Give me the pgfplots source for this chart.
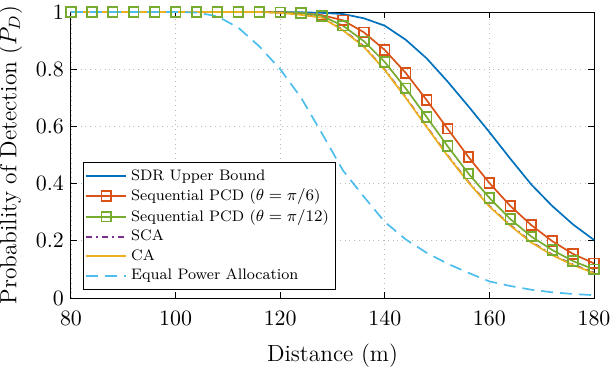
\documentclass[border=0pt]{standalone}
\usepackage{pgfplots}
\pgfplotsset{compat=1.18}
\definecolor{mblue}{rgb}{0,0.447,0.741}
\definecolor{mred}{rgb}{0.85,0.325,0.098}
\definecolor{myellow}{rgb}{0.929,0.694,0.125}
\definecolor{mpurple}{rgb}{0.494,0.184,0.556}
\definecolor{mgreen}{rgb}{0.466,0.674,0.188}
\definecolor{mcyan}{rgb}{0.301,0.745,0.933}
\begin{document}
\begin{tikzpicture}
\begin{axis}[name=ax, scale only axis, width=261.5pt, height=143pt,
  xmin=80, xmax=180, ymin=0, ymax=1,
  xtick={80,100,120,140,160,180}, ytick={0,0.2,0.4,0.6,0.8,1},
  tick align=inside, major tick length=3pt,
  grid=major, grid style={dotted, gray!55, line width=0.4pt},
  axis line style={line width=0.5pt},
  tick style={line width=0.5pt, black},
  tick label style={font=\fontsize{10.5}{12}\selectfont},
  xticklabel style={yshift=-3pt},
  label style={font=\fontsize{11.7}{14}\selectfont},
  xlabel style={yshift=-2.5pt},
  xlabel={Distance (m)}, ylabel={Probability of Detection ($P_D$)},
  clip=false,
  legend style={at={(0.023,0.028)}, anchor=south west,
    font=\fontsize{7.6}{9}\selectfont, draw=black,
    inner xsep=1pt, inner ysep=1.5pt, row sep=-1.2pt, cells={anchor=west}},
  legend image code/.code={\draw[mark repeat=2,mark phase=2,line width=0.85pt,#1] plot coordinates {(0pt,0pt) (10pt,0pt) (20pt,0pt)};},
  every axis plot/.append style={line width=0.85pt},
]
\addplot[mblue, no marks] coordinates {
(80,1)(84,1)(88,1)(92,1)(96,1)(100,1)(104,1)(108,1)(112,1)(116,1)(120,1)(124,0.999)(128,0.997)(132,0.993)(136,0.978)(140,0.952)(144,0.903)(148,0.838)(152,0.757)(156,0.67)(160,0.58)(164,0.487)(168,0.397)(172,0.322)(176,0.257)(180,0.203)};
\addlegendentry{SDR Upper Bound}
\addplot[mred, line width=0.85pt, mark=square, mark size=2.4pt, mark options={solid, line width=0.85pt}] coordinates {
(80,1)(84,1)(88,1)(92,1)(96,1)(100,1)(104,1)(108,1)(112,1)(116,1)(120,0.999)(124,0.996)(128,0.989)(132,0.971)(136,0.929)(140,0.867)(144,0.787)(148,0.692)(152,0.592)(156,0.493)(160,0.402)(164,0.322)(168,0.255)(172,0.199)(176,0.154)(180,0.121)};
\addlegendentry{Sequential PCD ($\theta=\pi/6$)}
\addplot[mgreen, line width=0.85pt, mark=square, mark size=2.4pt, mark options={solid, line width=0.85pt}] coordinates {
(80,1)(84,1)(88,1)(92,1)(96,1)(100,1)(104,1)(108,1)(112,1)(116,1)(120,0.999)(124,0.997)(128,0.986)(132,0.952)(136,0.898)(140,0.825)(144,0.733)(148,0.633)(152,0.531)(156,0.435)(160,0.35)(164,0.276)(168,0.215)(172,0.168)(176,0.129)(180,0.100)};
\addlegendentry{Sequential PCD ($\theta=\pi/12$)}
\addplot[mpurple, line width=0.85pt, no marks, dash dot] coordinates {
(80,1)(84,1)(88,1)(92,1)(96,1)(100,1)(104,1)(108,1)(112,1)(116,1)(120,0.998)(124,0.991)(128,0.981)(132,0.938)(136,0.88)(140,0.799)(144,0.702)(148,0.6)(152,0.499)(156,0.406)(160,0.322)(164,0.255)(168,0.196)(172,0.152)(176,0.117)(180,0.089)};
\addlegendentry{SCA}
\addplot[myellow, line width=0.85pt, no marks] coordinates {
(80,1)(84,1)(88,1)(92,1)(96,1)(100,1)(104,1)(108,1)(112,1)(116,1)(120,0.997)(124,0.99)(128,0.98)(132,0.936)(136,0.878)(140,0.797)(144,0.70)(148,0.598)(152,0.497)(156,0.404)(160,0.32)(164,0.253)(168,0.194)(172,0.150)(176,0.115)(180,0.087)};
\addlegendentry{CA}
\addplot[mcyan, line width=0.85pt, no marks, dash pattern=on 6pt off 3.5pt] coordinates {
(80,1)(84,1)(88,1)(92,1)(96,1)(100,1)(104,0.998)(108,0.985)(112,0.945)(116,0.88)(120,0.80)(124,0.70)(128,0.575)(132,0.446)(136,0.354)(140,0.266)(144,0.205)(148,0.158)(152,0.12)(156,0.088)(160,0.058)(164,0.042)(168,0.029)(172,0.02)(176,0.014)(180,0.01)};
\addlegendentry{Equal Power Allocation}
\end{axis}
\pgfresetboundingbox
\path[use as bounding box] ([shift={(-35.5pt,-34pt)}]ax.south west) rectangle ([shift={(8pt,6pt)}]ax.north east);
\end{tikzpicture}
\end{document}
